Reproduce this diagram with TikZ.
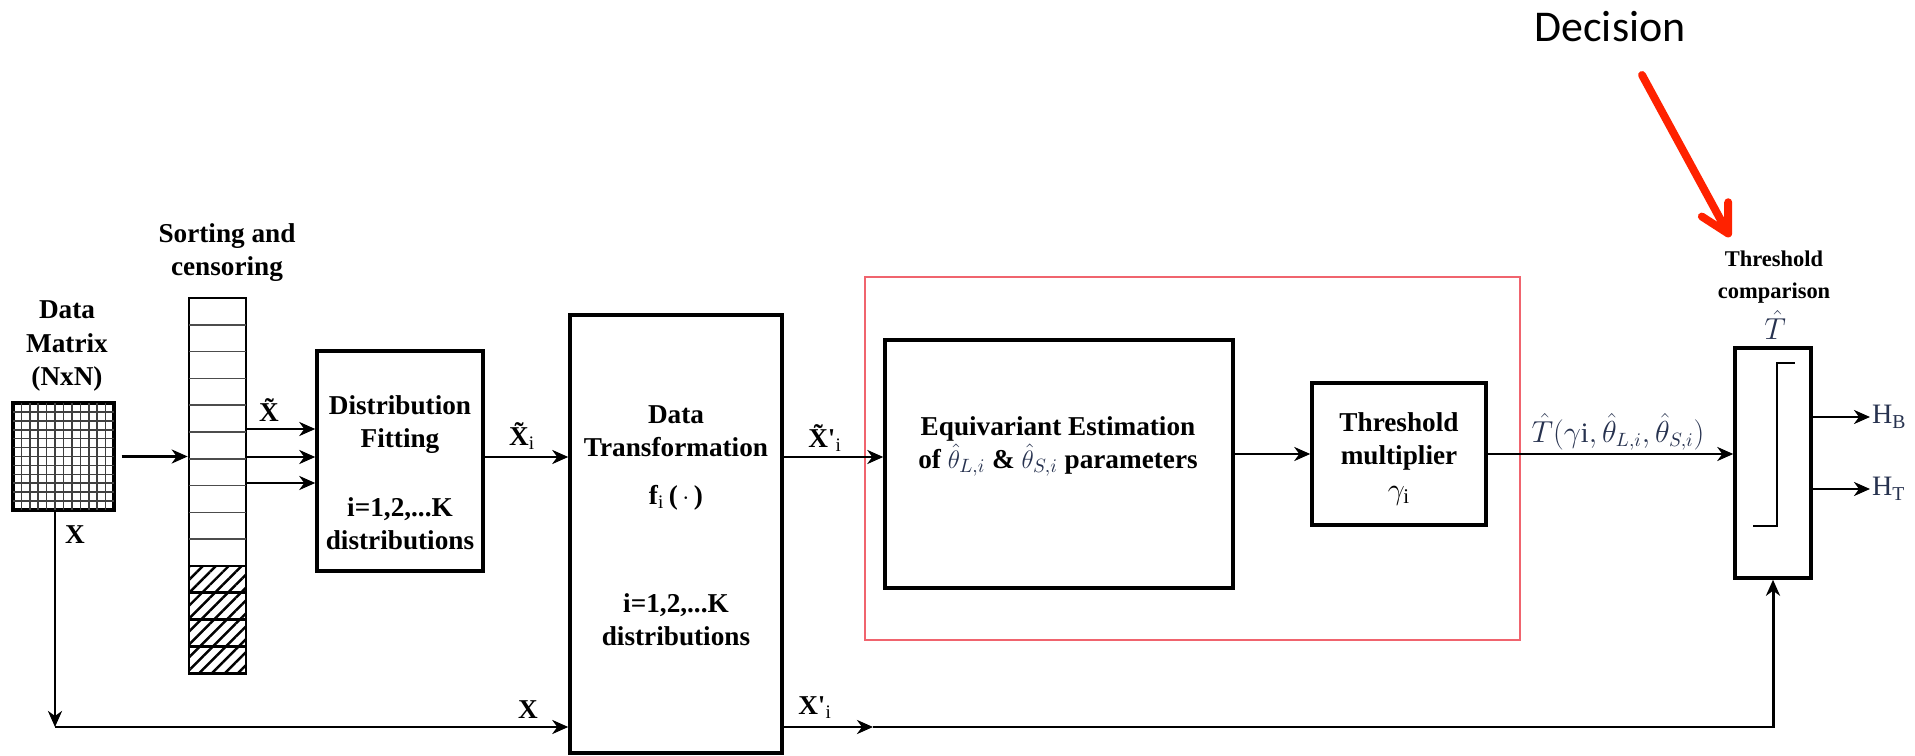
\documentclass[tikz,border=0pt]{standalone}
\usepackage{fontspec}
\setmainfont{Liberation Serif}
\newfontfamily\calibri{Carlito}
\usepackage{xcolor}
\definecolor{redbox}{HTML}{F0646E}
\definecolor{redarrow}{HTML}{FF2200}
\definecolor{mathink}{HTML}{27324F}
\usepackage{tikz}
\usetikzlibrary{arrows.meta}
\usetikzlibrary{patterns.meta}

\tikzset{
  blk/.style={draw, line width=2pt, inner sep=0pt},
  lbl/.style={font=\fontsize{15.5}{18.8}\selectfont\bfseries, align=center, inner sep=0pt},
  mlbl/.style={font=\fontsize{16}{18}\selectfont, text=mathink, inner sep=1pt},
  arr/.style={-{Stealth[length=0.32cm,width=0.28cm,inset=0.1cm]}, line width=1.7pt},
}

\begin{document}
\begin{tikzpicture}[x=0.02cm, y=-0.02cm]
            \useasboundingbox (0,0) rectangle (1915,756);

            % data matrix
            \node[blk, minimum width=2.02cm, minimum height=2.14cm] (mat) at (63.5,456.5) {};
            \foreach \k in {1,...,11} {
                \draw[line width=0.9pt, black!75] (13+\k*101/12,403) -- (13+\k*101/12,510);
                \draw[line width=0.9pt, black!75] (13,403+\k*107/12) -- (114,403+\k*107/12);
            }
            \node[lbl] (matlbl) at (67,346) {Data\\Matrix\\(NxN)};

            % sorting and censoring column
            \node[draw, line width=1.5pt, minimum width=1.14cm, minimum height=7.5cm, inner sep=0pt] (col) at (217.5,485.5) {};
            \foreach \k in {1,...,9}
                \draw[line width=0.8pt, black!70] (189,298+\k*26.8) -- (246,298+\k*26.8);
            \foreach \k in {10,...,13}
                \draw[line width=1.5pt, pattern={Lines[angle=45,distance=5.2pt,line width=1.4pt]}] (189,298+\k*26.8) rectangle (246,298+\k*26.8+26.8);
            \node[lbl] (collbl) at (227,253) {Sorting and\\censoring};

            % blocks
            \node[blk, minimum width=3.32cm, minimum height=4.4cm] (df) at (400,461) {};
            \node[lbl] (dftop) at (400,425) {Distribution\\Fitting};
            \node[lbl] (dfbot) at (400,523.5) {i=1,2,...K\\distributions};

            \node[blk, minimum width=4.24cm, minimum height=8.76cm] (dt) at (676,534) {};
            \node[lbl] (dttop) at (676,431.5) {Data\\Transformation};
            \node[lbl] (dtfun) at (676,498) {f{\mdseries\textsubscript{i}}\,(\,$\cdot$\,)};
            \node[lbl] (dtbot) at (676,620) {i=1,2,...K\\distributions};

            \node[draw=redbox, line width=0.9pt, minimum width=13.1cm, minimum height=7.26cm, inner sep=0pt] (est) at (1192.5,458.5) {};

            \node[blk, minimum width=6.96cm, minimum height=4.96cm] (ee) at (1059,464) {};
            \node[lbl] (eetxt) at (1058,446.5) {Equivariant Estimation\\of \textcolor{mathink}{$\hat{\theta}_{L,i}$} \& \textcolor{mathink}{$\hat{\theta}_{S,i}$} parameters};

            \node[blk, minimum width=3.48cm, minimum height=2.84cm] (tm) at (1399,454) {};
            \node[lbl] (tmtxt) at (1399,459) {Threshold\\multiplier\\[1pt]{\fontsize{17}{18}\selectfont$\gamma_{\mathrm{i}}$}};

            \node[blk, minimum width=1.52cm, minimum height=4.6cm] (tc) at (1773,463) {};
            \draw[line width=1.1pt] (1753,526) -- (1777,526) -- (1777,363) -- (1795,363);
            \node[lbl, font=\fontsize{12.8}{18}\selectfont\bfseries] (tclbl) at (1774,277) {Threshold\\comparison};
            \node[mlbl, font=\fontsize{18}{20}\selectfont] (that) at (1775,325) {$\hat{T}$};

            % signal labels
            \node[lbl] (xt) at (269,410) {\~{X}};
            \node[lbl] (xlbl) at (75,535) {X};
            \node[lbl] (xti) at (522,436) {\~{X}{\mdseries\textsubscript{i}}};
            \node[lbl] (xtpi) at (825,438) {\~{X}\textquotesingle{\mdseries\textsubscript{i}}};
            \node[lbl] (xlow) at (528,710) {X};
            \node[lbl] (xpi) at (815,708) {X\textquotesingle{\mdseries\textsubscript{i}}};
            \node[mlbl] (tlbl) at (1618,432) {$\hat{T}(\gamma\mathrm{i},\hat{\theta}_{L,i},\hat{\theta}_{S,i})$};
            \node[mlbl, anchor=west] (hb) at (1870,417) {$\mathrm{H}_{\mathrm{B}}$};
            \node[mlbl, anchor=west] (ht) at (1870,489) {$\mathrm{H}_{\mathrm{T}}$};

            % connectors
            \coordinate (main) at (0,457);
            \coordinate (up3) at (0,429);
            \coordinate (dn3) at (0,483);
            \coordinate (lcorner) at (55,727);
            \coordinate (midtip) at (873,727);

            \draw[arr] ([xshift=0.12cm]mat.east) -- (col.west |- mat.east);
            \draw[arr] (col.east |- up3) -- (df.west |- up3);
            \draw[arr] (col.east |- main) -- (df.west |- main);
            \draw[arr] (col.east |- dn3) -- (df.west |- dn3);
            \draw[arr] (df.east |- main) -- (dt.west |- main);
            \draw[arr] (dt.east |- main) -- (ee.west |- main);
            \draw[arr] (ee.east |- tm.west) -- (tm.west);
            \draw[arr] (tm.east) -- (tc.west |- tm.east);
            \draw[arr] (tc.east |- hb.west) -- (hb.west);
            \draw[arr] (tc.east |- ht.west) -- (ht.west);

            \draw[arr] (mat.south -| lcorner) -- (lcorner);
            \draw[arr] (lcorner) -- (dt.west |- lcorner);
            \draw[arr] (dt.east |- midtip) -- (midtip);
            \draw[arr] (midtip) -| (tc.south);

            % decision callout
            \node[font=\calibri\fontsize{25}{30}\selectfont, inner sep=0pt] (dec) at (1610,27) {Decision};
            \coordinate (dectail) at (1642,75);
            \coordinate (dectip) at (1730,237);
            \draw[redarrow, line width=4.5pt, line cap=round, -{Straight Barb[length=0.55cm, width=0.6cm, round]}] (dectail) -- (dectip);
        \end{tikzpicture}
\end{document}
